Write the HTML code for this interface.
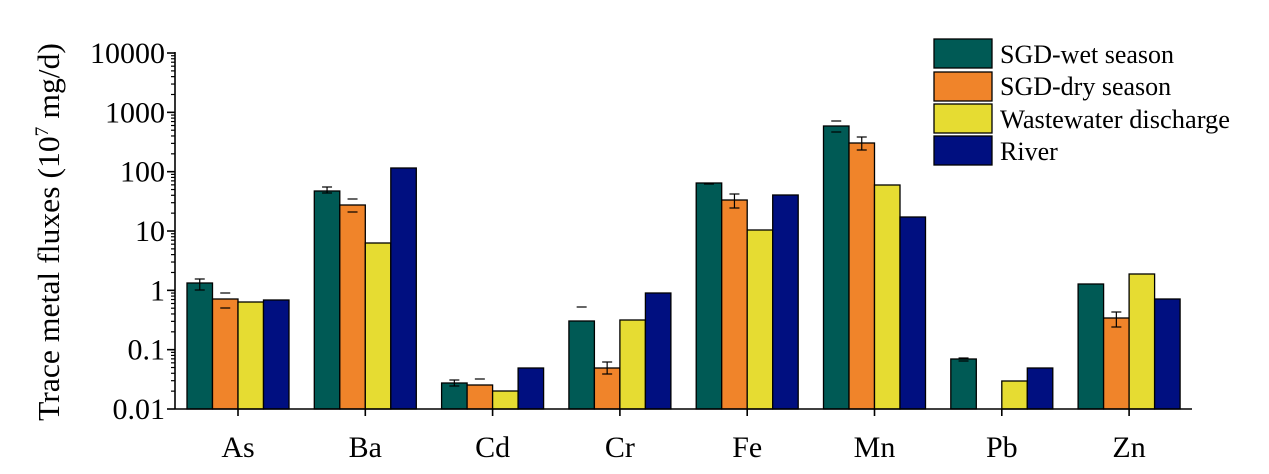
<!DOCTYPE html>
<html><head><meta charset="utf-8"><style>
html,body{margin:0;padding:0;background:#fff}
svg{display:block}
text{font-family:"Liberation Serif",serif;fill:#000}
</style></head><body>
<svg width="1269" height="474" viewBox="0 0 1269 474" xmlns="http://www.w3.org/2000/svg">
<g id="bars" stroke="#000" stroke-width="1.3"></g>
<g id="err" stroke="#000" stroke-width="1.2" fill="none"></g>
<g id="axes" stroke="#000" stroke-width="1.6"></g>
<g id="labels" font-size="30"></g>
<g id="xl" font-size="30"></g>
<text transform="translate(59,232) rotate(-90)" text-anchor="middle" font-size="31" textLength="378" lengthAdjust="spacingAndGlyphs">Trace metal fluxes (10<tspan dy="-11" font-size="19">7</tspan><tspan dy="11"> mg/d)</tspan></text>
<g stroke="#000" stroke-width="1.3">
<rect x="934" y="39" width="58" height="29" fill="#005a55"/>
<rect x="934" y="72" width="58" height="29" fill="#f0842a"/>
<rect x="934" y="104" width="58" height="29" fill="#e6dc32"/>
<rect x="934" y="136" width="58" height="29" fill="#000f80"/>
</g>
<g font-size="26">
<text x="1000" y="63">SGD-wet season</text>
<text x="1000" y="95">SGD-dry season</text>
<text x="1000" y="128" textLength="230" lengthAdjust="spacingAndGlyphs">Wastewater discharge</text>
<text x="1000" y="160">River</text>
</g>
<script>
var ns="http://www.w3.org/2000/svg";
function el(p,t,a,txt){var e=document.createElementNS(ns,t);for(var k in a)e.setAttribute(k,a[k]);if(txt)e.textContent=txt;document.getElementById(p).appendChild(e);}
var Y0=409,D=59.33;
var cols=["#005a55","#f0842a","#e6dc32","#000f80"];
var names=["As","Ba","Cd","Cr","Fe","Mn","Pb","Zn"];
var tops=[[283,299,302,300],[191,205,243,168],[383,385,391,368],[321,368,320,293],[183,200,230,195],[126,143,185,217],[359,null,381,368],[284,318,274,299]];
var errs=[[[0,279,290,1],[1,293,308,0]],[[0,187,193,1],[1,199,212,0]],[[0,380,386,1],[1,379,379,0]],[[0,307,307,0],[1,362,374,1]],[[0,184,184,0],[1,194,208,1]],[[0,121,132,0],[1,137,150,1]],[[0,358,361,0]],[[1,312,327,1]]];
for(var i=0;i<8;i++){var c=238+127.3*i,x0=c-51;
 for(var j=0;j<4;j++){var t=tops[i][j];if(t==null)continue;el("bars","rect",{x:x0+j*25.5,y:t,width:25.5,height:Y0-t,fill:cols[j]});}
 errs[i].forEach(function(e){var cx=x0+e[0]*25.5+12.75;el("err","line",{x1:cx-5,x2:cx+5,y1:e[1],y2:e[1]});if(e[2]!=e[1]){el("err","line",{x1:cx-5,x2:cx+5,y1:e[2],y2:e[2]});if(e[3])el("err","line",{x1:cx,x2:cx,y1:e[1],y2:e[2]});}});
 el("axes","line",{x1:c,x2:c,y1:Y0,y2:Y0+7});
 el("xl","text",{x:c,y:457,"text-anchor":"middle"},names[i]);
}
el("axes","line",{x1:175,x2:1192,y1:Y0,y2:Y0});
el("axes","line",{x1:175,x2:175,y1:52,y2:Y0});
var lab=["0.01","0.1","1","10","100","1000","10000"];
for(var d=0;d<7;d++){var yy=Y0-D*d;el("axes","line",{x1:167,x2:175,y1:yy,y2:yy});
 el("labels","text",{x:165,y:yy+10,"text-anchor":"end"},lab[d]);
 if(d<6)for(var m=2;m<10;m++){var ym=yy-D*Math.log10(m);el("axes","line",{x1:171,x2:175,y1:ym,y2:ym,"stroke-width":1.2});}}
</script>
</svg>
</body></html>
